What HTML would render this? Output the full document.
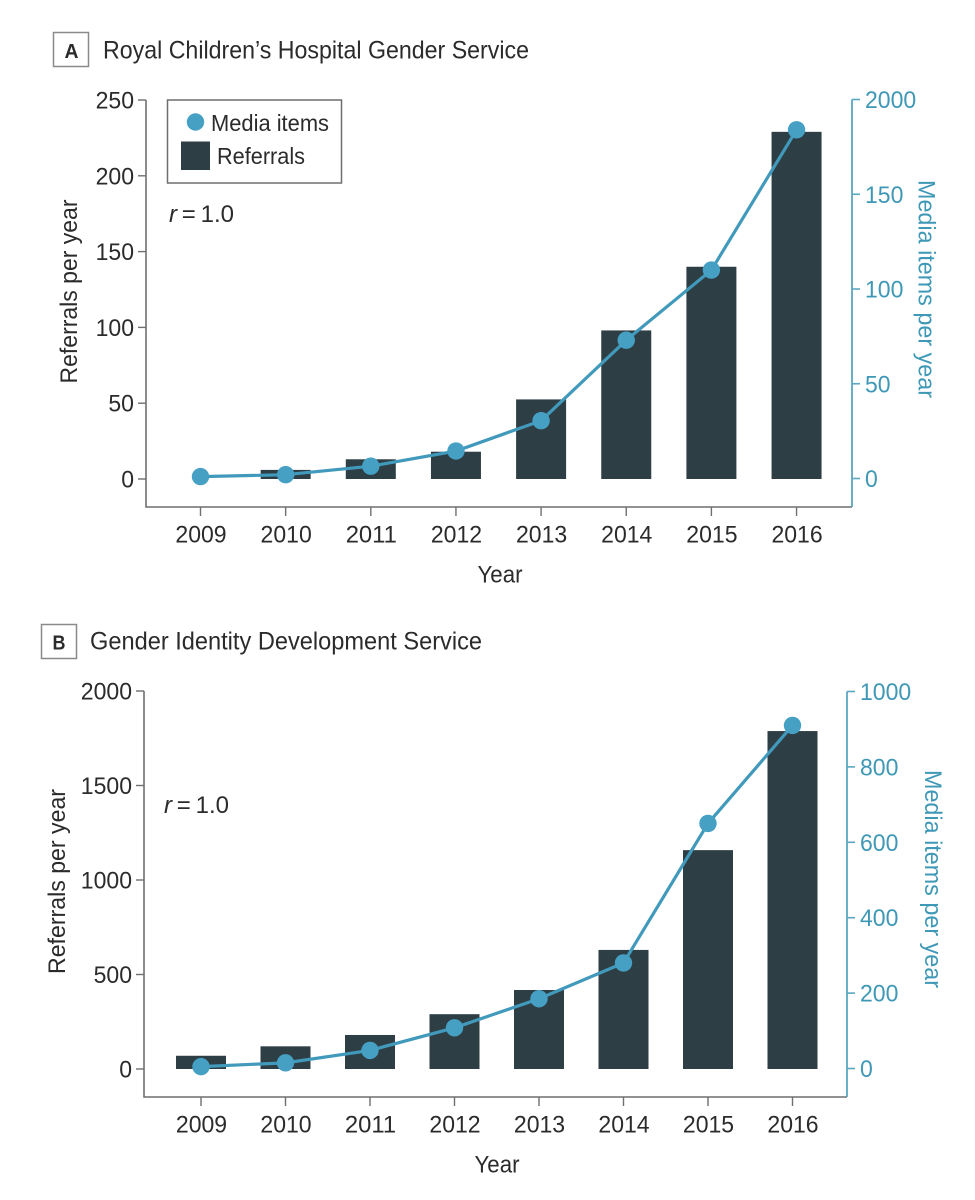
<!DOCTYPE html>
<html lang="en">
<head>
<meta charset="utf-8">
<title>Referrals and media items per year</title>
<style>
html,body{margin:0;padding:0;background:#fff;width:975px;height:1200px;overflow:hidden}
svg{display:block;font-family:"Liberation Sans",sans-serif}
text{fill:#2b2b2b}
.teal{fill:#3f98b6}
.f24{font-size:24px}
.f25{font-size:25px}
</style>
</head>
<body>
<svg id="figure" width="975" height="1200" viewBox="0 0 975 1200" xmlns="http://www.w3.org/2000/svg">
  <rect x="53.5" y="32.5" width="35" height="34" fill="#fff" stroke="#8a8a8a" stroke-width="1.5"/>
  <text x="71.5" y="58" text-anchor="middle" font-size="20" font-weight="bold" textLength="14" lengthAdjust="spacingAndGlyphs">A</text>
  <text x="103" y="58.5" class="f25" textLength="426" lengthAdjust="spacingAndGlyphs">Royal Children’s Hospital Gender Service</text>

  <rect x="41.5" y="624.5" width="35" height="34" fill="#fff" stroke="#8a8a8a" stroke-width="1.5"/>
  <text x="59" y="649.5" text-anchor="middle" font-size="20" font-weight="bold" textLength="13" lengthAdjust="spacingAndGlyphs">B</text>
  <text x="90" y="649.5" class="f25" textLength="392" lengthAdjust="spacingAndGlyphs">Gender Identity Development Service</text>

  <g id="panel-a"></g>
  <g id="panel-b"></g>

  <g>
    <rect x="167.5" y="100" width="174" height="83" fill="#fff" stroke="#6f6f6f" stroke-width="1.5"/>
    <circle cx="195.5" cy="122" r="8.7" fill="#45a0c4"/>
    <text x="211" y="131" font-size="23.5" textLength="118" lengthAdjust="spacingAndGlyphs">Media items</text>
    <rect x="181" y="141.5" width="29" height="28.5" fill="#2e3e45"/>
    <text x="217" y="164" font-size="23.5" textLength="88" lengthAdjust="spacingAndGlyphs">Referrals</text>
  </g>

  <text x="169" y="222" class="f24"><tspan font-style="italic">r</tspan>&#8201;=&#8201;1.0</text>
  <text x="164" y="813" class="f24"><tspan font-style="italic">r</tspan>&#8201;=&#8201;1.0</text>

  <text transform="translate(77 291.5) rotate(-90)" text-anchor="middle" class="f24" textLength="184" lengthAdjust="spacingAndGlyphs">Referrals per year</text>
  <text class="teal f24" transform="translate(918.5 289) rotate(90)" text-anchor="middle" textLength="218" lengthAdjust="spacingAndGlyphs">Media items per year</text>
  <text x="500" y="582.5" text-anchor="middle" class="f24" textLength="45" lengthAdjust="spacingAndGlyphs">Year</text>

  <text transform="translate(65 881.5) rotate(-90)" text-anchor="middle" class="f24" textLength="185" lengthAdjust="spacingAndGlyphs">Referrals per year</text>
  <text class="teal f24" transform="translate(925 879) rotate(90)" text-anchor="middle" textLength="218" lengthAdjust="spacingAndGlyphs">Media items per year</text>
  <text x="497" y="1172.5" text-anchor="middle" class="f24" textLength="45" lengthAdjust="spacingAndGlyphs">Year</text>
</svg>
<script>
var years = [2009, 2010, 2011, 2012, 2013, 2014, 2015, 2016];

var referralsA = [0, 6, 13, 18, 52.5, 98, 140, 229];
var mediaA = [1, 2, 6.5, 14.5, 30.5, 73, 110, 184];
var leftTicksA = [0, 50, 100, 150, 200, 250];
var rightTicksA = [0, 50, 100, 150, 200];
var rightTickLabelsA = ['0', '50', '100', '150', '2000'];

var referralsB = [70, 120, 180, 290, 418, 630, 1158, 1788];
var mediaB = [5, 15, 48, 108, 185, 280, 650, 910];
var leftTicksB = [0, 500, 1000, 1500, 2000];
var rightTicksB = [0, 200, 400, 600, 800, 1000];
var rightTickLabelsB = ['0', '200', '400', '600', '800', '1000'];

var NS = 'http://www.w3.org/2000/svg';
var TEAL_AXIS = '#5ba6c2';
var GREY_AXIS = '#6f6f6f';
var DIGIT_WIDTH = 12.8;

function make(parent, tag, attrs, label) {
  var el = document.createElementNS(NS, tag);
  for (var k in attrs) { el.setAttribute(k, attrs[k]); }
  if (label !== undefined) {
    el.textContent = label;
    el.setAttribute('textLength', label.length * DIGIT_WIDTH);
    el.setAttribute('lengthAdjust', 'spacingAndGlyphs');
  }
  parent.appendChild(el);
  return el;
}

function drawPanel(root, prefix, cfg) {
  function x(i) { return cfg.x0 + i * cfg.step; }
  function yL(v) { return cfg.yZeroL - v / cfg.leftMax * cfg.heightL; }
  function yR(v) { return cfg.yZeroR - v / cfg.rightMax * cfg.heightR; }

  cfg.referrals.forEach(function (v, i) {
    if (v <= 0) { return; }
    var bar = make(root, 'rect', { x: x(i) - 25, y: yL(v), width: 50, height: yL(0) - yL(v), fill: '#2e3e45' });
    
    
  });

  var leftAxis = make(root, 'path', {
    d: 'M' + cfg.axisL + ' ' + yL(cfg.leftMax) + 'V' + cfg.yBase + 'H' + cfg.axisR,
    fill: 'none', stroke: GREY_AXIS, 'stroke-width': 1.6
  });
  
  

  var rightAxis = make(root, 'path', {
    d: 'M' + cfg.axisR + ' ' + cfg.yBase + 'V' + yR(cfg.rightMax),
    fill: 'none', stroke: TEAL_AXIS, 'stroke-width': 1.8
  });
  
  

  cfg.leftTicks.forEach(function (v) {
    var tick = make(root, 'line', { x1: cfg.axisL - 8, x2: cfg.axisL, y1: yL(v), y2: yL(v), stroke: GREY_AXIS, 'stroke-width': 1.4 });
    
    
    var label = make(root, 'text', { x: cfg.axisL - 12, y: yL(v) + 8.5, 'text-anchor': 'end', 'font-size': 24 }, String(v));
    
    
  });

  cfg.rightTicks.forEach(function (v, i) {
    var tick = make(root, 'line', { x1: cfg.axisR, x2: cfg.axisR + 8, y1: yR(v), y2: yR(v), stroke: TEAL_AXIS, 'stroke-width': 1.6 });
    
    
    var label = make(root, 'text', { x: cfg.axisR + 13, y: yR(v) + 8.5, 'font-size': 24, 'class': 'teal' }, cfg.rightLabels[i]);
    
    
  });

  years.forEach(function (yr, i) {
    var tick = make(root, 'line', { x1: x(i), x2: x(i), y1: cfg.yBase, y2: cfg.yBase + 9, stroke: GREY_AXIS, 'stroke-width': 1.4 });
    
    
    var label = make(root, 'text', { x: x(i) + 0.5, y: cfg.yBase + 35.5, 'text-anchor': 'middle', 'font-size': 24 }, String(yr));
    
    
  });

  var pts = cfg.media.map(function (v, i) { return x(i) + ',' + yR(v); }).join(' ');
  var line = make(root, 'polyline', { points: pts, fill: 'none', stroke: '#4199bb', 'stroke-width': 3.2 });
  
  

  cfg.media.forEach(function (v, i) {
    var dot = make(root, 'circle', { cx: x(i), cy: yR(v), r: 8.7, fill: '#45a0c4' });
    
    
  });
}

drawPanel(document.getElementById('panel-a'), 'panel-a', {
  x0: 200.5, step: 85.15, axisL: 146, axisR: 852, yBase: 507,
  yZeroL: 479, heightL: 379, leftMax: 250,
  yZeroR: 478.5, heightR: 379, rightMax: 200,
  referrals: referralsA, media: mediaA,
  leftTicks: leftTicksA, rightTicks: rightTicksA, rightLabels: rightTickLabelsA
});

drawPanel(document.getElementById('panel-b'), 'panel-b', {
  x0: 201, step: 84.5, axisL: 144, axisR: 847, yBase: 1097,
  yZeroL: 1069, heightL: 378, leftMax: 2000,
  yZeroR: 1068.5, heightR: 377, rightMax: 1000,
  referrals: referralsB, media: mediaB,
  leftTicks: leftTicksB, rightTicks: rightTicksB, rightLabels: rightTickLabelsB
});
</script>
</body>
</html>
